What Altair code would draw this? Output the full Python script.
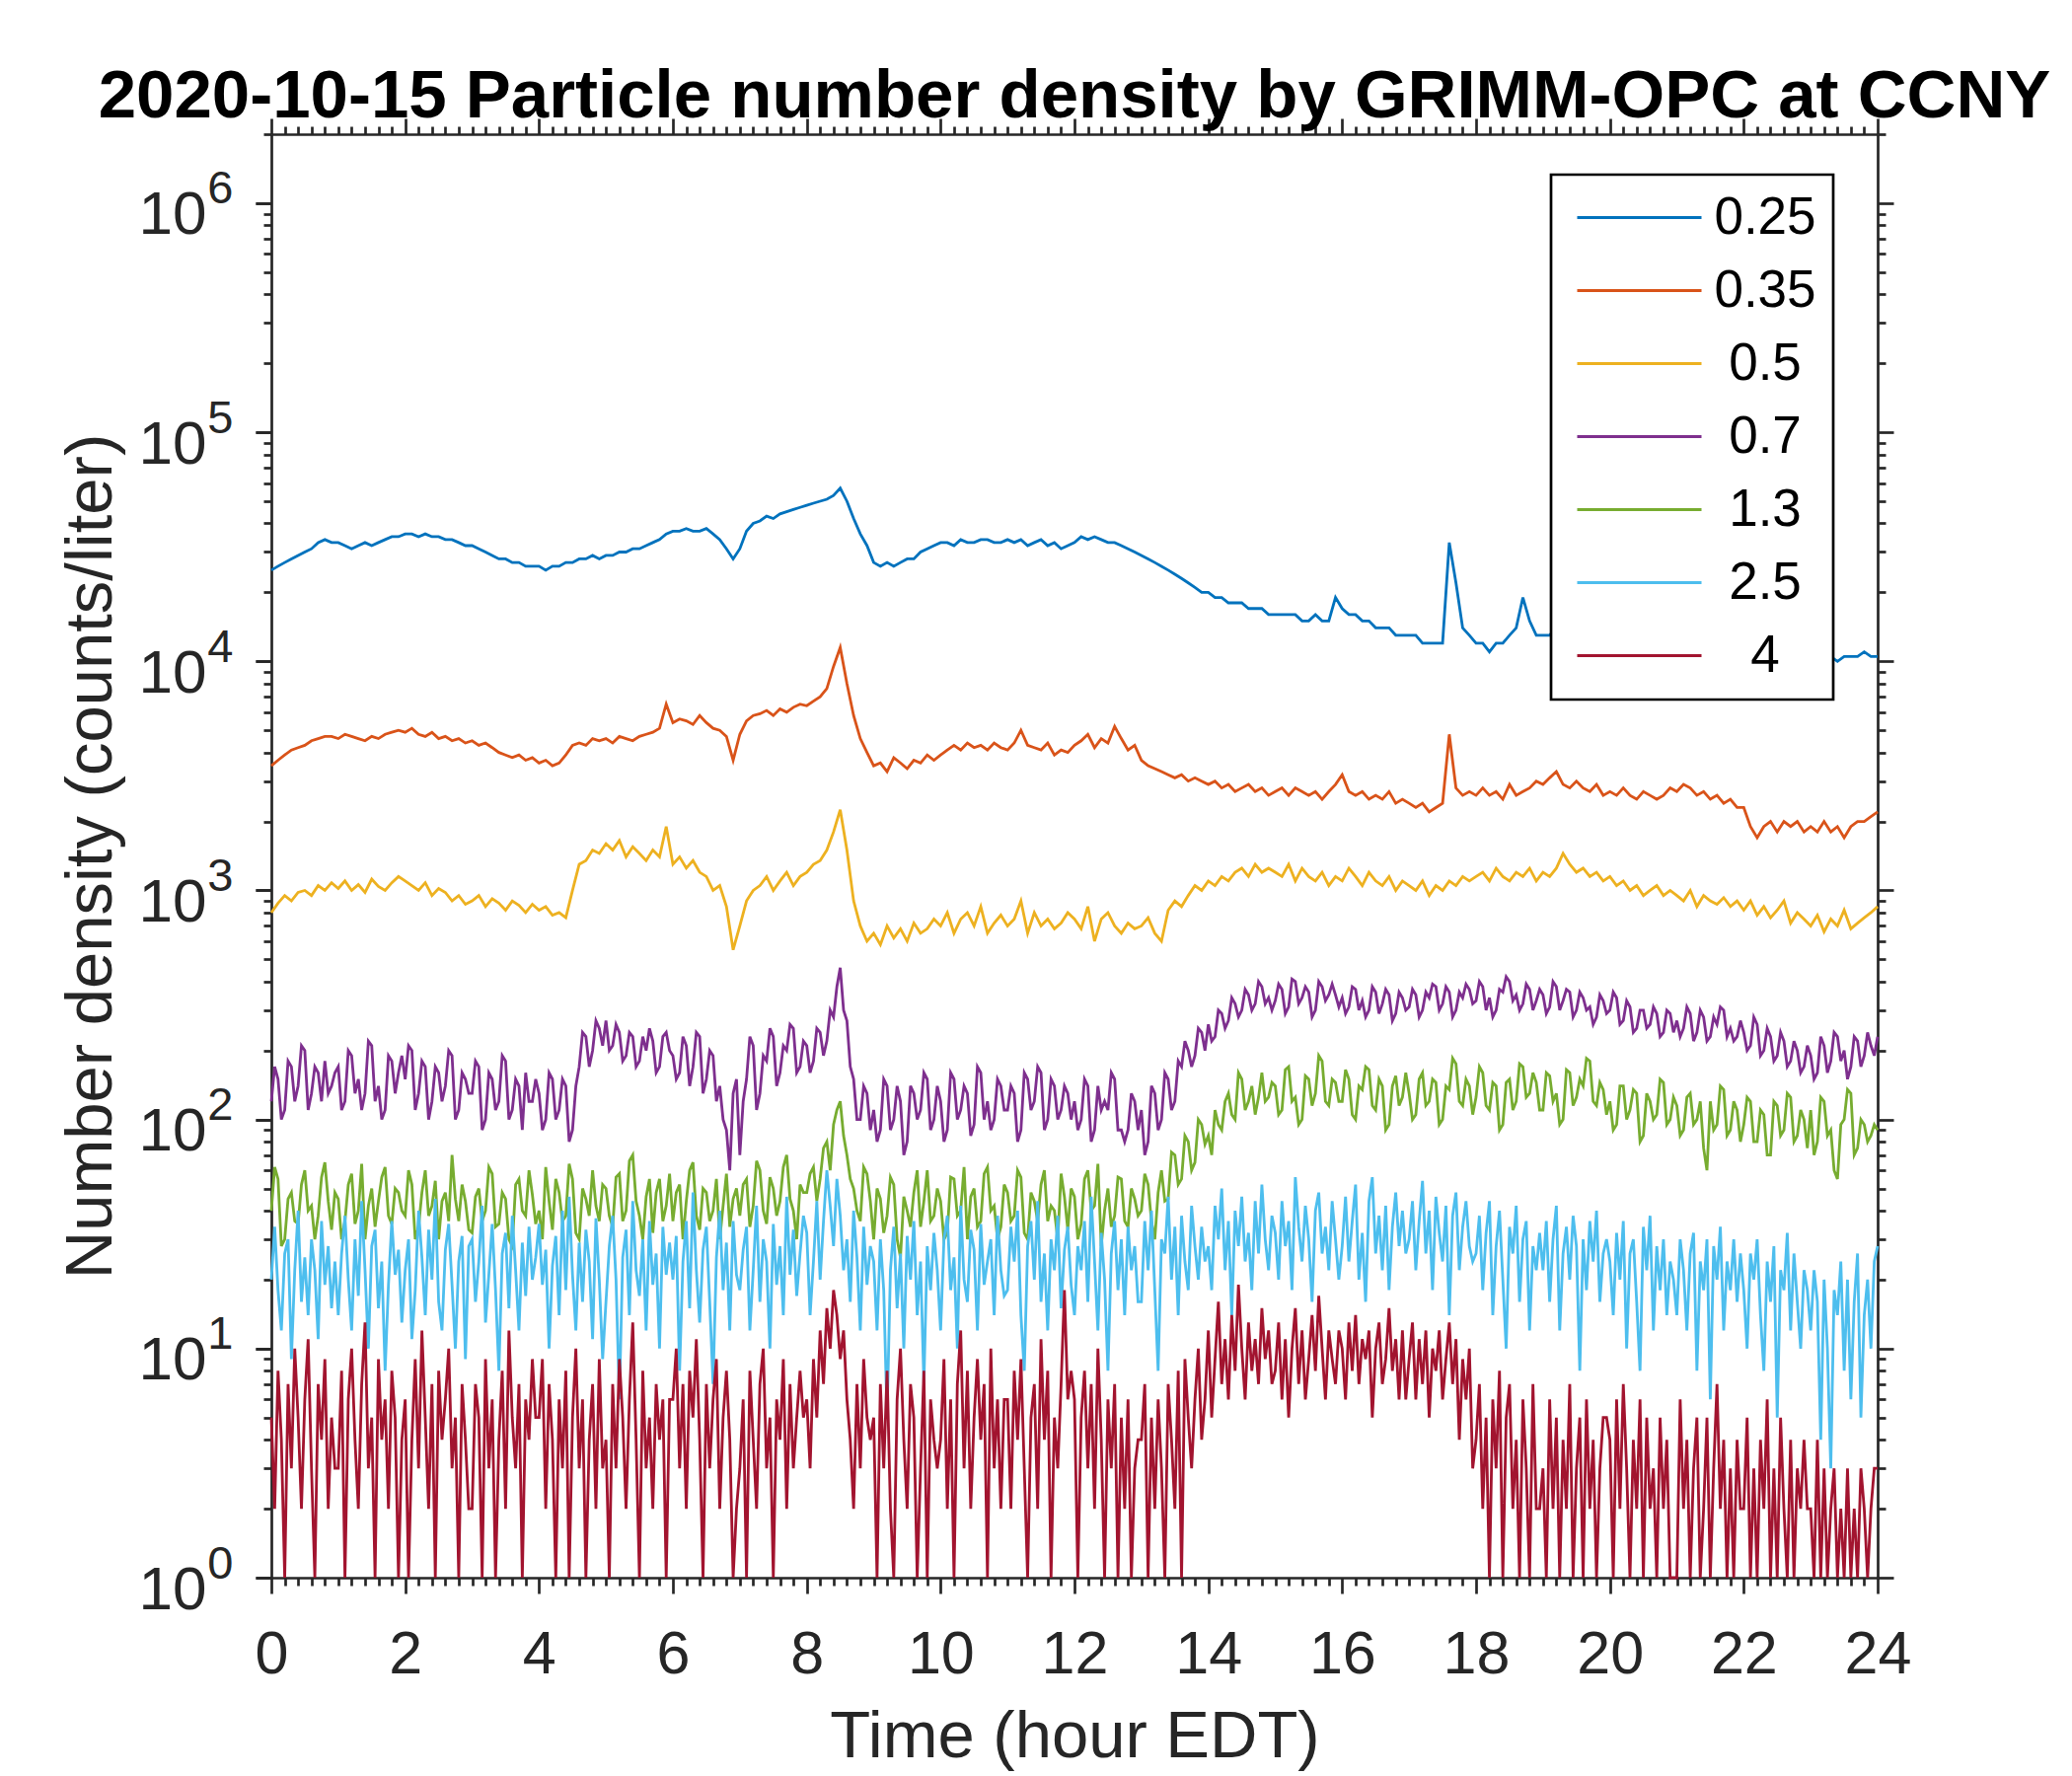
import altair as alt
import pandas as pd

sizes = ["0.25", "0.35", "0.5", "0.7", "1.3", "2.5", "4"]
colors = ["#0072BD", "#D95319", "#EDB120", "#7E2F8E", "#77AC30", "#4DBEEE", "#A2142F"]

# Each series: one row per hour (values spread evenly through that hour), last row = value at 24 h
s025 = [
    [25000, 26000, 27000, 28000, 29000, 30000, 31000, 33000, 34000, 33000],
    [33000, 32000, 31000, 32000, 33000, 32000, 33000, 34000, 35000, 35000],
    [36000, 36000, 35000, 36000, 35000, 35000, 34000, 34000, 33000, 32000],
    [32000, 31000, 30000, 29000, 28000, 28000, 27000, 27000, 26000, 26000],
    [26000, 25000, 26000, 26000, 27000, 27000, 28000, 28000, 29000, 28000],
    [29000, 29000, 30000, 30000, 31000, 31000, 32000, 33000, 34000, 36000],
    [37000, 37000, 38000, 37000, 37000, 38000, 36000, 34000, 31000, 28000],
    [31000, 37000, 40000, 41000, 43000, 42000, 44000, 45000, 46000, 47000],
    [48000, 49000, 50000, 51000, 53000, 57000, 50000, 42000, 36000, 32000],
    [27000, 26000, 27000, 26000, 27000, 28000, 28000, 30000, 31000, 32000],
    [33000, 33000, 32000, 34000, 33000, 33000, 34000, 34000, 33000, 33000],
    [34000, 33000, 34000, 32000, 33000, 34000, 32000, 33000, 31000, 32000],
    [33000, 35000, 34000, 35000, 34000, 33000, 33000, 32000, 31000, 30000],
    [29000, 28000, 27000, 26000, 25000, 24000, 23000, 22000, 21000, 20000],
    [20000, 19000, 19000, 18000, 18000, 18000, 17000, 17000, 17000, 16000],
    [16000, 16000, 16000, 16000, 15000, 15000, 16000, 15000, 15000, 19000],
    [17000, 16000, 16000, 15000, 15000, 14000, 14000, 14000, 13000, 13000],
    [13000, 13000, 12000, 12000, 12000, 12000, 33000, 22000, 14000, 13000],
    [12000, 12000, 11000, 12000, 12000, 13000, 14000, 19000, 15000, 13000],
    [13000, 13000, 14000, 13000, 13000, 13000, 12000, 12000, 12000, 12000],
    [12000, 12000, 12000, 12000, 11000, 12000, 11000, 11000, 12000, 11000],
    [12000, 11000, 11000, 11000, 11000, 11000, 11000, 11000, 11000, 11000],
    [11000, 11000, 11000, 10500, 11000, 10500, 10500, 11000, 10500, 10500],
    [10500, 10000, 10500, 10500, 10000, 10500, 10500, 10500, 11000, 10500],
    [10500],
]

s035 = [
    [3500, 3700, 3900, 4100, 4200, 4300, 4500, 4600, 4700, 4700],
    [4600, 4800, 4700, 4600, 4500, 4700, 4600, 4800, 4900, 5000],
    [4900, 5100, 4800, 4700, 4900, 4600, 4700, 4500, 4600, 4400],
    [4500, 4300, 4400, 4200, 4000, 3900, 3800, 3900, 3700, 3800],
    [3600, 3700, 3500, 3600, 3900, 4300, 4400, 4300, 4600, 4500],
    [4600, 4400, 4700, 4600, 4500, 4700, 4800, 4900, 5100, 6500],
    [5400, 5600, 5500, 5300, 5800, 5400, 5100, 5000, 4700, 3700],
    [4800, 5500, 5800, 5900, 6100, 5800, 6200, 6000, 6300, 6500],
    [6400, 6700, 7000, 7600, 9500, 11500, 8000, 5800, 4600, 4000],
    [3500, 3600, 3300, 3800, 3600, 3400, 3700, 3600, 3900, 3700],
    [3900, 4100, 4300, 4100, 4400, 4200, 4300, 4100, 4400, 4200],
    [4100, 4400, 5000, 4300, 4200, 4100, 4400, 3900, 4100, 4000],
    [4300, 4500, 4800, 4200, 4600, 4400, 5200, 4600, 4100, 4300],
    [3700, 3500, 3400, 3300, 3200, 3100, 3200, 3000, 3100, 3000],
    [2900, 3000, 2800, 2900, 2700, 2800, 2900, 2700, 2800, 2600],
    [2700, 2800, 2600, 2800, 2700, 2600, 2700, 2500, 2700, 2900],
    [3200, 2700, 2600, 2700, 2500, 2600, 2500, 2700, 2400, 2500],
    [2400, 2300, 2400, 2200, 2300, 2400, 4800, 2800, 2600, 2700],
    [2600, 2800, 2600, 2700, 2500, 2900, 2600, 2700, 2800, 3000],
    [2900, 3100, 3300, 2900, 2800, 3000, 2800, 2700, 2900, 2600],
    [2700, 2600, 2800, 2600, 2500, 2700, 2600, 2500, 2600, 2800],
    [2700, 2900, 2800, 2600, 2700, 2500, 2600, 2400, 2500, 2300],
    [2300, 1900, 1700, 1900, 2000, 1800, 2000, 1900, 2000, 1800],
    [1900, 1800, 2000, 1800, 1900, 1700, 1900, 2000, 2000, 2100],
    [2200],
]

s05 = [
    [800, 880, 950, 900, 980, 1000, 950, 1050, 1000, 1080],
    [1020, 1100, 1000, 1060, 980, 1120, 1040, 1000, 1080, 1150],
    [1100, 1050, 1000, 1080, 950, 1020, 980, 900, 950, 870],
    [900, 950, 850, 920, 880, 820, 900, 860, 800, 870],
    [820, 850, 780, 800, 760, 1000, 1300, 1350, 1500, 1450],
    [1600, 1500, 1650, 1400, 1550, 1450, 1350, 1500, 1400, 1900],
    [1300, 1400, 1250, 1350, 1200, 1150, 1000, 1050, 850, 550],
    [700, 900, 1000, 1050, 1150, 1000, 1100, 1200, 1050, 1150],
    [1200, 1300, 1350, 1500, 1800, 2250, 1500, 900, 700, 600],
    [650, 580, 700, 620, 680, 600, 720, 650, 680, 750],
    [700, 800, 650, 750, 800, 700, 850, 650, 720, 780],
    [700, 750, 900, 650, 800, 700, 750, 680, 720, 800],
    [750, 680, 850, 600, 750, 800, 700, 650, 720, 680],
    [700, 760, 650, 600, 820, 900, 850, 950, 1050, 1000],
    [1100, 1050, 1150, 1100, 1200, 1250, 1150, 1300, 1200, 1250],
    [1200, 1150, 1300, 1100, 1250, 1150, 1100, 1200, 1050, 1150],
    [1100, 1250, 1150, 1050, 1200, 1100, 1050, 1150, 1000, 1100],
    [1050, 1000, 1100, 950, 1050, 1000, 1100, 1050, 1150, 1100],
    [1150, 1200, 1100, 1250, 1150, 1100, 1200, 1150, 1250, 1100],
    [1200, 1150, 1250, 1450, 1300, 1200, 1250, 1150, 1200, 1100],
    [1150, 1050, 1100, 1000, 1050, 950, 1000, 1050, 950, 1000],
    [950, 900, 1000, 850, 950, 900, 870, 930, 850, 900],
    [820, 900, 780, 850, 760, 820, 900, 720, 800, 750],
    [700, 780, 660, 750, 700, 820, 680, 720, 760, 800],
    [850],
]

s07 = [
    [120, 170, 150, 100, 110, 180, 170, 120, 140, 210, 200, 110, 130, 170, 160, 120, 180, 130, 140, 160],
    [170, 110, 120, 200, 190, 130, 150, 110, 130, 220, 210, 120, 140, 100, 110, 190, 180, 130, 160, 190],
    [150, 210, 200, 110, 130, 180, 170, 100, 120, 170, 160, 120, 140, 200, 190, 100, 110, 160, 150, 130],
    [130, 180, 170, 90, 100, 160, 150, 110, 120, 190, 180, 100, 110, 150, 140, 90, 160, 120, 120, 150],
    [130, 90, 100, 160, 150, 100, 110, 150, 140, 80, 90, 140, 170, 240, 230, 170, 200, 270, 250, 210],
    [270, 200, 210, 260, 240, 180, 190, 240, 230, 170, 180, 230, 200, 250, 220, 160, 170, 230, 240, 200],
    [190, 150, 160, 230, 210, 140, 170, 240, 230, 130, 150, 200, 190, 120, 140, 100, 90, 60, 130, 150],
    [70, 120, 150, 230, 210, 110, 130, 190, 180, 250, 230, 140, 160, 210, 200, 260, 250, 160, 170, 220],
    [210, 160, 180, 250, 240, 190, 220, 300, 280, 380, 460, 300, 270, 170, 150, 100, 100, 140, 130, 90],
    [110, 80, 90, 150, 140, 90, 100, 140, 120, 70, 80, 140, 130, 100, 110, 160, 150, 90, 100, 140],
    [120, 80, 90, 160, 150, 100, 110, 140, 130, 85, 95, 170, 160, 100, 120, 90, 100, 150, 140, 110],
    [110, 140, 130, 80, 90, 160, 150, 110, 120, 170, 160, 90, 100, 150, 140, 100, 110, 140, 130, 100],
    [120, 90, 100, 150, 140, 80, 90, 140, 110, 120, 110, 160, 150, 90, 90, 80, 90, 130, 120, 90],
    [110, 70, 80, 140, 130, 90, 100, 160, 150, 110, 120, 180, 170, 220, 200, 170, 190, 250, 240, 200],
    [260, 220, 230, 300, 290, 250, 270, 340, 320, 280, 300, 370, 350, 300, 320, 400, 380, 320, 340, 300],
    [330, 390, 370, 290, 310, 410, 400, 320, 340, 380, 360, 280, 300, 400, 380, 330, 350, 390, 350, 310],
    [340, 290, 310, 380, 370, 300, 330, 280, 300, 380, 360, 290, 320, 370, 350, 270, 290, 360, 340, 300],
    [310, 370, 350, 280, 300, 360, 340, 390, 380, 300, 320, 380, 360, 280, 300, 360, 340, 390, 370, 320],
    [330, 400, 380, 300, 340, 280, 300, 370, 360, 420, 400, 330, 350, 300, 320, 390, 370, 300, 330, 370],
    [350, 290, 310, 400, 380, 300, 330, 370, 360, 280, 300, 360, 340, 300, 310, 260, 280, 350, 330, 290],
    [300, 360, 340, 260, 270, 330, 310, 240, 250, 300, 300, 250, 260, 310, 290, 230, 240, 300, 290, 240],
    [270, 230, 250, 310, 290, 220, 240, 300, 280, 220, 230, 280, 260, 310, 300, 230, 250, 220, 230, 270],
    [240, 200, 210, 280, 260, 190, 200, 250, 230, 180, 190, 240, 220, 170, 180, 220, 200, 160, 170, 210],
    [190, 150, 160, 230, 210, 160, 180, 240, 230, 180, 200, 150, 170, 230, 220, 170, 190, 240, 210, 190],
    [230],
]

s13 = [
    [40, 62, 55, 28, 30, 45, 48, 36, 35, 52, 60, 40, 42, 30, 38, 56, 65, 44, 33, 48],
    [45, 30, 36, 52, 58, 35, 40, 64, 30, 42, 50, 34, 44, 56, 62, 38, 35, 50, 48, 40],
    [38, 60, 52, 30, 34, 48, 60, 38, 42, 54, 30, 44, 48, 36, 70, 45, 36, 52, 44, 33],
    [32, 46, 50, 36, 40, 62, 58, 34, 35, 48, 45, 30, 28, 52, 55, 40, 38, 60, 47, 35],
    [40, 30, 62, 44, 33, 55, 48, 36, 38, 64, 55, 32, 30, 50, 45, 38, 60, 42, 36, 52],
    [50, 38, 34, 56, 58, 36, 40, 66, 70, 44, 38, 30, 46, 55, 32, 48, 55, 36, 42, 58],
    [36, 48, 52, 30, 44, 60, 65, 38, 33, 50, 48, 36, 40, 55, 30, 42, 58, 34, 45, 50],
    [38, 52, 55, 34, 42, 66, 60, 40, 35, 56, 50, 38, 44, 62, 70, 45, 40, 30, 52, 48],
    [48, 58, 62, 44, 55, 75, 80, 60, 95, 110, 120, 85, 70, 55, 50, 40, 36, 62, 58, 44],
    [30, 50, 45, 32, 38, 56, 52, 30, 25, 46, 40, 34, 48, 60, 34, 44, 60, 36, 38, 50],
    [44, 30, 32, 56, 55, 38, 40, 62, 30, 46, 50, 34, 36, 58, 62, 40, 42, 30, 34, 52],
    [48, 36, 38, 60, 56, 32, 30, 48, 44, 36, 52, 60, 36, 42, 40, 30, 58, 46, 33, 50],
    [46, 30, 35, 55, 60, 40, 42, 64, 28, 40, 50, 34, 38, 56, 55, 36, 34, 50, 45, 38],
    [40, 58, 52, 36, 30, 48, 60, 44, 45, 72, 70, 52, 55, 85, 80, 60, 65, 100, 95, 78],
    [85, 70, 110, 95, 90, 120, 130, 105, 100, 160, 150, 110, 120, 140, 105, 125, 160, 120, 125, 145],
    [140, 105, 110, 165, 170, 120, 125, 95, 100, 155, 150, 115, 130, 190, 180, 120, 115, 150, 145, 120],
    [120, 165, 150, 105, 100, 140, 135, 170, 165, 115, 110, 150, 140, 90, 95, 140, 155, 115, 125, 160],
    [130, 100, 105, 150, 160, 115, 120, 150, 145, 95, 100, 140, 135, 185, 175, 120, 115, 150, 140, 105],
    [125, 170, 160, 115, 110, 145, 140, 90, 95, 145, 150, 110, 120, 175, 170, 125, 130, 160, 145, 110],
    [110, 160, 155, 120, 130, 95, 100, 165, 160, 115, 125, 150, 140, 185, 180, 120, 115, 145, 135, 105],
    [120, 90, 95, 140, 140, 100, 110, 135, 130, 80, 85, 130, 120, 100, 105, 150, 145, 95, 100, 125],
    [115, 85, 90, 125, 130, 95, 100, 120, 75, 60, 120, 90, 95, 140, 135, 85, 90, 120, 110, 80],
    [95, 125, 120, 80, 80, 110, 105, 70, 70, 120, 115, 85, 90, 130, 125, 80, 85, 110, 100, 75],
    [110, 70, 80, 125, 120, 85, 90, 60, 55, 95, 100, 135, 130, 70, 75, 100, 95, 80, 85, 95],
    [90],
]

s25 = [
    [20, 34, 18, 12, 26, 30, 9, 22, 40, 16, 25, 14, 30, 22, 11, 36, 19, 28, 15, 24],
    [14, 26, 38, 20, 12, 30, 17, 44, 22, 10, 28, 33, 15, 24, 8, 19, 36, 21, 27, 13],
    [22, 30, 11, 18, 40, 25, 14, 33, 20, 45, 16, 12, 27, 35, 19, 10, 24, 31, 9, 28],
    [30, 16, 24, 42, 13, 21, 35, 18, 8, 26, 32, 15, 38, 22, 12, 29, 17, 34, 20, 25],
    [35, 19, 27, 10, 23, 31, 14, 40, 18, 46, 21, 12, 29, 16, 33, 24, 11, 37, 20, 9],
    [16, 28, 38, 20, 6, 25, 33, 14, 44, 22, 17, 30, 12, 36, 19, 26, 10, 34, 21, 29],
    [20, 31, 8, 24, 36, 15, 48, 22, 13, 27, 34, 16, 7, 25, 40, 18, 29, 12, 36, 21],
    [18, 27, 34, 12, 22, 42, 16, 30, 24, 10, 35, 19, 28, 14, 46, 21, 33, 17, 26, 38],
    [32, 14, 24, 44, 20, 36, 60, 42, 28, 55, 38, 22, 30, 16, 40, 25, 12, 34, 19, 28],
    [24, 12, 30, 18, 5, 22, 34, 15, 26, 10, 31, 20, 36, 14, 24, 7, 28, 18, 32, 22],
    [12, 30, 38, 18, 25, 10, 42, 20, 16, 33, 27, 12, 35, 19, 24, 30, 14, 38, 22, 17],
    [18, 34, 24, 40, 14, 8, 28, 36, 20, 44, 16, 26, 12, 30, 22, 38, 15, 27, 34, 19],
    [14, 28, 22, 36, 16, 46, 24, 12, 32, 20, 8, 26, 36, 18, 30, 14, 34, 22, 28, 16],
    [16, 36, 22, 40, 18, 8, 30, 26, 46, 20, 34, 14, 38, 24, 18, 42, 28, 20, 34, 24],
    [28, 18, 42, 30, 50, 22, 36, 14, 40, 28, 46, 24, 32, 18, 44, 26, 52, 30, 22, 38],
    [32, 20, 44, 28, 36, 18, 56, 34, 24, 42, 30, 16, 40, 48, 26, 34, 22, 44, 30, 20],
    [28, 46, 24, 36, 52, 20, 32, 16, 44, 56, 26, 38, 22, 42, 18, 34, 48, 28, 40, 26],
    [30, 44, 22, 36, 54, 26, 40, 18, 46, 32, 24, 42, 14, 38, 48, 22, 34, 44, 28, 24],
    [26, 38, 18, 32, 44, 14, 28, 40, 20, 10, 34, 26, 42, 16, 30, 36, 12, 28, 22, 32],
    [22, 36, 16, 30, 42, 12, 26, 34, 20, 38, 28, 8, 30, 18, 36, 24, 40, 16, 26, 30],
    [24, 14, 32, 20, 36, 10, 26, 30, 16, 8, 34, 22, 38, 12, 28, 18, 30, 14, 24, 20],
    [14, 30, 22, 12, 26, 32, 8, 24, 18, 30, 6, 28, 20, 34, 12, 24, 18, 30, 16, 26],
    [18, 10, 26, 20, 30, 14, 8, 24, 16, 28, 5, 22, 18, 32, 12, 26, 16, 10, 22, 18],
    [12, 22, 16, 4, 20, 10, 3, 18, 14, 24, 8, 20, 6, 16, 26, 5, 14, 20, 10, 24],
    [28],
]

s4 = [
    [5, 2, 8, 4, 1, 7, 3, 10, 5, 2, 6, 11, 3, 1, 7, 4, 9, 2, 5, 3],
    [3, 8, 1, 6, 10, 4, 2, 7, 13, 3, 5, 1, 9, 4, 6, 2, 8, 5, 1, 4],
    [6, 1, 4, 9, 3, 12, 5, 2, 7, 1, 8, 4, 6, 10, 3, 5, 1, 7, 4, 2],
    [2, 7, 5, 1, 9, 3, 6, 1, 4, 8, 2, 12, 5, 3, 7, 1, 6, 4, 9, 5],
    [5, 9, 2, 7, 4, 1, 6, 3, 8, 1, 5, 10, 3, 6, 1, 4, 7, 2, 9, 3],
    [4, 1, 7, 3, 9, 5, 2, 6, 13, 4, 1, 8, 3, 5, 2, 7, 4, 6, 1, 6],
    [6, 10, 3, 7, 2, 8, 5, 11, 4, 1, 7, 3, 6, 9, 2, 5, 8, 4, 1, 2],
    [3, 6, 1, 8, 4, 2, 7, 10, 3, 5, 1, 6, 4, 9, 2, 7, 3, 5, 8, 5],
    [6, 3, 9, 5, 12, 7, 15, 10, 18, 14, 9, 12, 6, 4, 2, 7, 3, 9, 5, 4],
    [5, 1, 7, 3, 8, 2, 1, 6, 10, 4, 2, 7, 5, 1, 3, 8, 1, 6, 4, 3],
    [4, 9, 2, 6, 1, 7, 12, 3, 8, 2, 5, 9, 4, 7, 1, 10, 3, 6, 2, 6],
    [6, 2, 8, 4, 9, 3, 1, 5, 7, 2, 11, 4, 8, 1, 5, 3, 7, 18, 6, 8],
    [6, 1, 5, 8, 3, 7, 2, 10, 4, 1, 6, 3, 7, 1, 5, 2, 6, 1, 3, 4],
    [4, 7, 1, 5, 2, 6, 3, 1, 7, 4, 2, 8, 1, 9, 5, 3, 6, 10, 4, 6],
    [12, 5, 9, 16, 7, 11, 6, 14, 8, 19, 10, 6, 13, 8, 11, 7, 15, 9, 12, 7],
    [8, 13, 6, 11, 5, 10, 15, 7, 12, 6, 9, 14, 8, 17, 10, 6, 12, 9, 7, 12],
    [10, 6, 13, 8, 14, 7, 11, 9, 12, 5, 10, 13, 7, 9, 15, 8, 11, 6, 12, 6],
    [9, 13, 6, 11, 7, 12, 5, 10, 8, 12, 6, 9, 13, 7, 11, 4, 9, 6, 10, 3],
    [4, 7, 2, 5, 1, 6, 3, 8, 1, 5, 7, 2, 4, 1, 6, 3, 1, 7, 2, 2],
    [3, 1, 6, 2, 5, 1, 4, 2, 7, 1, 3, 5, 1, 6, 2, 4, 1, 3, 5, 5],
    [4, 1, 6, 2, 7, 3, 1, 4, 2, 6, 1, 5, 2, 3, 1, 5, 2, 4, 1, 1],
    [1, 6, 2, 4, 1, 3, 5, 1, 2, 5, 1, 3, 7, 2, 4, 1, 3, 1, 4, 2],
    [2, 5, 1, 3, 1, 4, 2, 6, 1, 3, 1, 5, 2, 1, 4, 1, 3, 2, 4, 2],
    [2, 1, 4, 1, 3, 1, 2, 3, 1, 2, 1, 3, 1, 2, 1, 3, 2, 1, 2, 3],
    [3],
]

series = [s025, s035, s05, s07, s13, s25, s4]

x_major = list(range(0, 25, 2))
x_minor = [round(i * 0.2, 1) for i in range(121) if i % 10 != 0]
y_major = [1, 10, 100, 1000, 10000, 100000, 1000000]
y_minor = [m * 10 ** d for d in range(7) for m in range(2, 10) if m * 10 ** d <= 2000000]

rows = []
for name, hourly in zip(sizes, series):
    for hr, vals in enumerate(hourly):
        for j, v in enumerate(vals):
            rows.append({"hour": hr + j / len(vals), "value": v, "size": name})
df = pd.DataFrame(rows)

FONT = "Liberation Sans"
AX = "#262626"
x_scale = alt.Scale(domain=[0, 24], nice=False, zero=False)
y_scale = alt.Scale(type="log", domain=[1, 2000000], nice=False)

common = dict(grid=False, tickColor=AX, domainColor=AX, tickWidth=2.7, domainWidth=2.7,
              labelFont=FONT, titleFont=FONT, labelColor=AX, titleColor=AX)

expo = "'' + round(log(datum.value)/LN10)"

lines = alt.Chart(df).mark_line(strokeWidth=2.8).encode(
    x=alt.X("hour:Q", scale=x_scale, axis=alt.Axis(
        orient="bottom", values=x_major, title="Time (hour EDT)", tickSize=16,
        labelFontSize=61, titleFontSize=67, labelPadding=32, titlePadding=20,
        titleFontWeight="normal", labelFlush=False, **common)),
    y=alt.Y("value:Q", scale=y_scale, axis=alt.Axis(
        orient="left", values=y_major, title="Number density (counts/liter)", tickSize=16,
        labelFontSize=62, titleFontSize=67, labelPadding=50, titlePadding=14, labelOffset=12,
        titleFontWeight="normal", labelExpr="'10'", labelFlush=False, **common)),
    color=alt.Color("size:N", sort=sizes, scale=alt.Scale(domain=sizes, range=colors),
                    legend=alt.Legend(
                        orient="none", legendX=1297, legendY=41, title=None,
                        symbolType="stroke", symbolSize=15876, symbolStrokeWidth=2.8,
                        clipHeight=53, rowPadding=20, padding=17, symbolOffset=8,
                        labelFontSize=53, labelFont=FONT, labelColor="black",
                        labelAlign="center", labelOffset=63,
                        fillColor="white", strokeColor="black")),
)

anchor = alt.Chart(df).transform_filter(alt.datum.size == "0.25").mark_point(opacity=0, size=1)


def ax(orient, values, size, domain, **kw):
    return alt.Axis(orient=orient, values=values, tickSize=size, labels=False, title=None,
                    domain=domain, **common, **kw)


exponents = anchor.encode(
    x=alt.X("hour:Q", scale=x_scale, axis=None),
    y=alt.Y("value:Q", scale=y_scale, axis=alt.Axis(
        orient="left", values=y_major, tickSize=16, title=None, domain=False,
        labelFontSize=47, labelPadding=23, labelOffset=-14, labelExpr=expo,
        labelFlush=False, **common)),
)
minor_bl = anchor.encode(
    x=alt.X("hour:Q", scale=x_scale, axis=ax("bottom", x_minor, 8, False)),
    y=alt.Y("value:Q", scale=y_scale, axis=ax("left", y_minor, 8, False)),
)
major_tr = anchor.encode(
    x=alt.X("hour:Q", scale=x_scale, axis=ax("top", x_major, 16, True)),
    y=alt.Y("value:Q", scale=y_scale, axis=ax("right", y_major, 16, True)),
)
minor_tr = anchor.encode(
    x=alt.X("hour:Q", scale=x_scale, axis=ax("top", x_minor, 8, False)),
    y=alt.Y("value:Q", scale=y_scale, axis=ax("right", y_minor, 8, False)),
)

chart = alt.layer(lines, exponents, minor_bl, major_tr, minor_tr).resolve_axis(
    x="independent", y="independent"
).properties(
    width=1628, height=1463,
    title=alt.TitleParams(
        "2020-10-15 Particle number density by GRIMM-OPC at CCNY",
        fontSize=69, font=FONT, fontWeight="bold", color="black", anchor="middle", offset=-14),
    padding={"left": 50, "top": 55, "right": 10, "bottom": 10},
).configure_view(stroke=None).configure_legend(strokeWidth=2.7)

chart.save("out.html", embed_options={"renderer": "svg", "actions": False})
